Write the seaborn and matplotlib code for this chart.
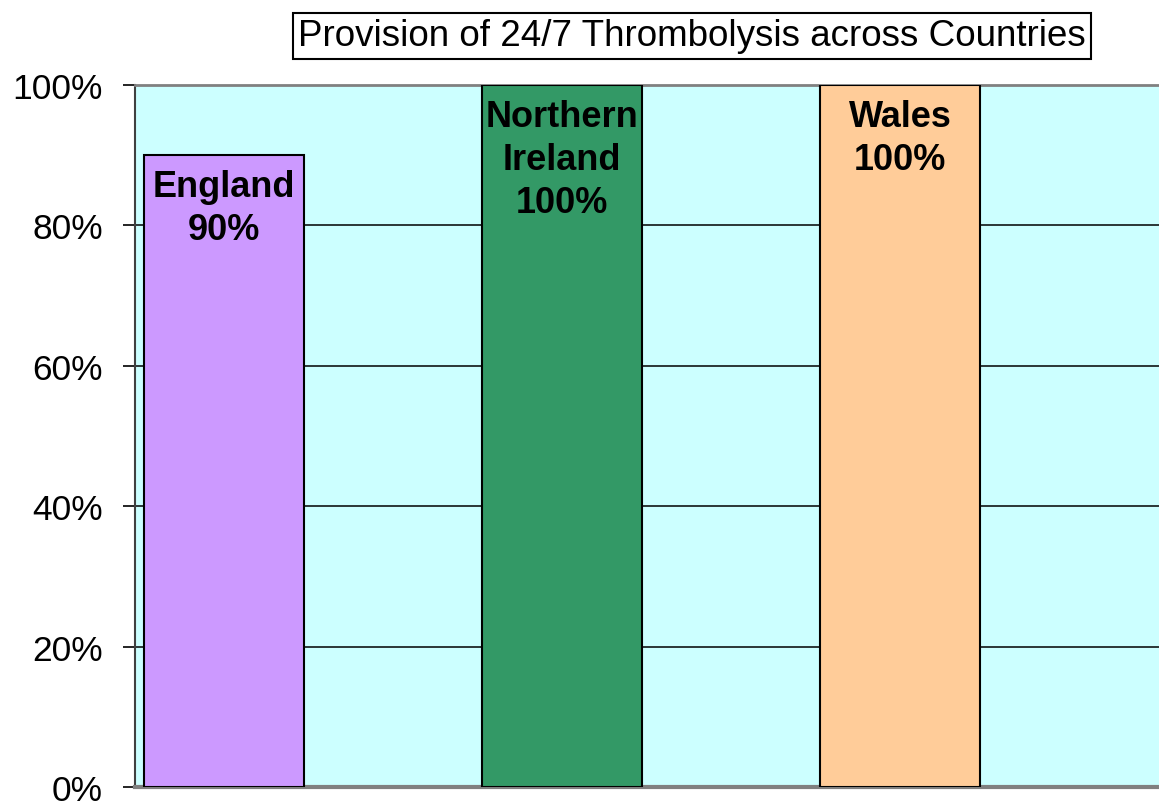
import numpy as np
import pandas as pd
import matplotlib
matplotlib.use("Agg")
import matplotlib.pyplot as plt
import seaborn as sns

# Data
countries = ["England", "Northern Ireland", "Wales"]
labels = ["England\n90%", "Northern\nIreland\n100%", "Wales\n100%"]
provision = [90, 100, 100]
bar_colors = ["#CC99FF", "#339966", "#FFCC99"]

df = pd.DataFrame({"Country": countries, "Provision": provision})

sns.set_style("white")
plt.rcParams["font.family"] = ["Liberation Sans", "DejaVu Sans"]
plt.rcParams["text.color"] = "black"
plt.rcParams["ytick.color"] = "black"

fig = plt.figure(figsize=(11.59, 8.03), dpi=100)
ax = fig.add_axes([135 / 1159, 15 / 803, 1024 / 1159, 702 / 803])
ax.set_facecolor("#CCFFFF")

sns.barplot(data=df, x="Country", y="Provision", hue="Country",
            palette=bar_colors, width=0.473, edgecolor="black",
            linewidth=1.5, saturation=1, legend=False, ax=ax, zorder=3)

ax.set_xlim(-0.263, 2.766)
ax.set_ylim(0, 100)
ax.set_yticks(np.arange(0, 101, 20))
ax.set_yticklabels([f"{v}%" for v in range(0, 101, 20)], fontsize=25.5, color="black")
ax.set_xticks([])
ax.set_xlabel("")
ax.set_ylabel("")
ax.tick_params(axis="y", direction="out", length=9, width=1.2, color="black",
               left=True, pad=14)

# gridlines
for v in [20, 40, 60, 80]:
    ax.axhline(v, color="black", lw=1.1, zorder=1)

ax.spines["right"].set_visible(False)
ax.spines["top"].set_color("#808080")
ax.spines["top"].set_linewidth(2)
ax.spines["bottom"].set_color("#808080")
ax.spines["bottom"].set_linewidth(3)
ax.spines["left"].set_color("#404040")
ax.spines["left"].set_linewidth(1.5)

# bar labels inside the top of each bar
for i, (val, lab) in enumerate(zip(provision, labels)):
    ax.annotate(lab, xy=(i, val), xytext=(0, -10), textcoords="offset points",
                ha="center", va="top", fontsize=26, fontweight="bold",
                color="black", linespacing=1.3, zorder=4)

fig.text(692 / 1159, 1 - 37 / 803, "Provision of 24/7 Thrombolysis across Countries",
         ha="center", va="center", fontsize=26.5, color="black",
         bbox=dict(boxstyle="square,pad=0.15", facecolor="white",
                   edgecolor="black", linewidth=1.5))

fig.savefig("out.png", dpi=100)
